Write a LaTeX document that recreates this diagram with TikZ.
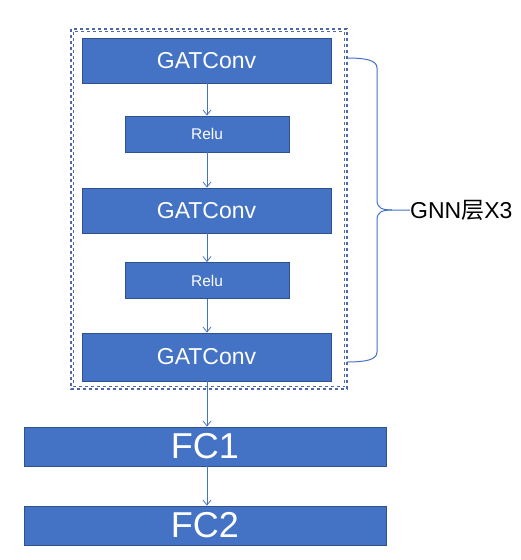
\documentclass[tikz,border=0pt]{standalone}
\usepackage{fontspec}
\setmainfont{Liberation Sans}
\newfontfamily\cjkfont{Noto Sans CJK SC}
\usetikzlibrary{arrows.meta,positioning}
\definecolor{boxblue}{HTML}{4472C4}
\definecolor{boxedge}{HTML}{2F528F}
\definecolor{framecol}{HTML}{4F69A8}

\begin{document}
\begin{tikzpicture}[x=1pt,y=-1pt,>={Straight Barb[length=5pt,width=8pt]},
  layerbox/.style={draw=boxedge,fill=boxblue,text=white,line width=0.8pt,inner sep=0pt},
  gatbox/.style={layerbox,minimum width=249pt,minimum height=45pt,font=\fontsize{23}{23}\selectfont},
  relubox/.style={layerbox,minimum width=164pt,minimum height=36pt,font=\fontsize{15.5}{15.5}\selectfont},
  fcbox/.style={layerbox,minimum width=362pt,minimum height=39pt,font=\fontsize{36}{36}\selectfont},
  flow/.style={->,draw=boxblue,line width=0.8pt},
  frameline/.style={draw=framecol,line width=1.2pt,dash pattern=on 3pt off 3pt}]

  \useasboundingbox (0,0) rectangle (521,560);

  \node[gatbox] (gat1) at (206.5,60.5) {GATConv};
  \node[relubox] (relu1) at (207,134) {Relu};
  \node[gatbox] (gat2) at (206.5,210.5) {GATConv};
  \node[relubox] (relu2) at (207,280.5) {Relu};
  \node[gatbox,minimum height=48pt] (gat3) at (206.5,357) {GATConv};

  \node[fcbox] (fc1) at (205,446.5) {FC1};
  \node[fcbox] (fc2) at (205,525.5) {FC2};

  % double dotted frame round the GNN layers
  \draw[frameline] (71,29) rectangle (347,389);
  \draw[frameline] (73.5,31.5) rectangle (344.5,386.5);

  \draw[flow] (gat1.south -| relu1.north) -- (relu1.north);
  \draw[flow] (relu1) -- (relu1 |- gat2.north);
  \draw[flow] (gat2.south -| relu2.north) -- (relu2.north);
  \draw[flow] (relu2) -- (relu2 |- gat3.north);
  \draw[flow] (gat3.south -| relu2.south) -- (relu2.south |- fc1.north);
  \draw[flow] (fc1.south -| relu2.south) -- (relu2.south |- fc2.north);

  % brace
  \node[anchor=west,inner sep=0pt,font=\fontsize{23}{23}\selectfont] (gnn) at (410,210) {GNN{\cjkfont 层}X3};
  \coordinate (bracetop) at (347,58);
  \coordinate (bracebot) at (347,362);
  \draw[boxblue,line width=1pt] (bracetop) .. controls (365,58) and (377,60) .. (377,68) -- (377,200)
    .. controls (377,208) and (382,210) .. (392,210) -- (gnn.west);
  \draw[boxblue,line width=1pt] (392,210) .. controls (382,210) and (377,212) .. (377,220) -- (377,352)
    .. controls (377,360) and (365,362) .. (bracebot);
\end{tikzpicture}
\end{document}
